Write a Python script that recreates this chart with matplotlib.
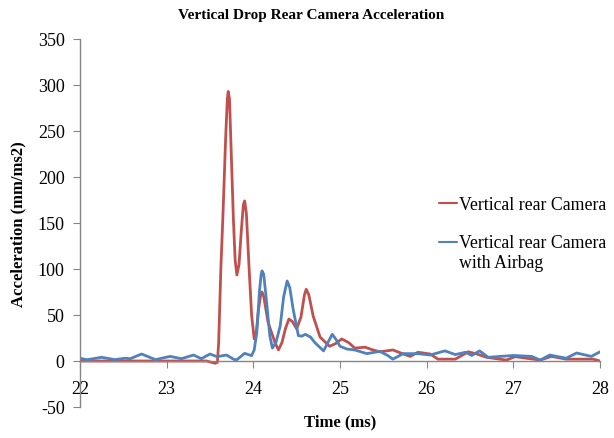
import matplotlib
matplotlib.use("Agg")
import matplotlib.pyplot as plt

plt.rcParams['font.family'] = ['Liberation Serif', 'DejaVu Serif']

title = "Vertical Drop Rear Camera Acceleration"
xlabel = "Time (ms)"
ylabel = "Acceleration (mm/ms2)"
red_label = "Vertical rear Camera"
blue_label = "Vertical rear Camera\nwith Airbag"

red_t = [22.0, 22.5, 23.0, 23.46, 23.52, 23.56, 23.585, 23.6, 23.625, 23.65, 23.68, 23.70,
         23.71, 23.725, 23.74, 23.77, 23.79, 23.81, 23.835, 23.86, 23.885, 23.90, 23.92,
         23.95, 23.98, 24.01, 24.035, 24.06, 24.085, 24.10, 24.12, 24.17, 24.25, 24.29,
         24.33, 24.37, 24.41, 24.45, 24.50, 24.55, 24.59, 24.61, 24.64, 24.69, 24.77, 24.88,
         24.95, 25.02, 25.1, 25.17, 25.29, 25.38, 25.46, 25.61, 25.72, 25.81, 25.9, 26.04,
         26.13, 26.33, 26.48, 26.58, 26.69, 26.92, 27.02, 27.31, 27.44, 27.61, 27.92, 28.0]
red_v = [0, 0, 0, 0, -1.5, -2.5, -1.5, 20, 100, 160, 241, 285,
         293, 285, 241, 154, 110, 93.5, 105, 140, 170, 174, 160,
         103, 50, 24, 32, 56, 72, 75, 70, 42, 20, 12,
         20, 35, 45.6, 43, 35, 48, 72, 78, 72, 49, 26, 16,
         19, 24, 20, 14, 15, 12, 10, 12, 8, 5, 9.5, 7.6,
         2, 2, 10, 7.6, 4, 1, 4.7, 1, 5, 2, 2, 0]

blue_t = [22.0, 22.08, 22.25, 22.40, 22.52, 22.58, 22.71, 22.87, 23.04, 23.17, 23.31, 23.40,
          23.5, 23.58, 23.69, 23.78, 23.81, 23.90, 23.98, 24.01, 24.04, 24.07, 24.09, 24.10,
          24.12, 24.15, 24.19, 24.22, 24.26, 24.31, 24.35, 24.39, 24.42, 24.46, 24.52, 24.56,
          24.60, 24.66, 24.71, 24.81, 24.86, 24.91, 24.95, 25.0, 25.08, 25.17, 25.31, 25.46,
          25.55, 25.61, 25.73, 25.9, 26.04, 26.21, 26.33, 26.45, 26.52, 26.61, 26.71, 26.85,
          27.0, 27.21, 27.31, 27.42, 27.61, 27.73, 27.90, 28.0]
blue_v = [3, 1.4, 4, 1.5, 3, 2.5, 7.6, 1.5, 5, 2.5, 6.5, 2.5,
          7.6, 4.7, 6.5, 1.5, 1.4, 8.3, 5.8, 12, 31, 75, 94, 98,
          94, 67, 27.5, 14, 20, 38, 70, 87, 80, 56, 27.5, 27,
          29, 26, 20, 11, 20, 29, 24, 16, 13, 12, 8, 10.5,
          6, 2, 8, 8, 6.5, 11, 7, 9.5, 6, 11, 4, 5,
          6, 5, 1, 6.5, 3, 8.7, 5, 10]

x_ticks = [22, 23, 24, 25, 26, 27, 28]
y_ticks = [-50, 0, 50, 100, 150, 200, 250, 300, 350]

fig = plt.figure(figsize=(6.14, 4.39), dpi=100)
ax = fig.add_axes([80/614, 1-408/439, 520/614, 368/439])

red_c = '#C0504D'
blue_c = '#4F81BD'
ax.plot(red_t, red_v, color=red_c, lw=2, label=red_label,
        solid_joinstyle='round', solid_capstyle='round')
ax.plot(blue_t, blue_v, color=blue_c, lw=2, label=blue_label,
        solid_joinstyle='round', solid_capstyle='round')

ax.set_xlim(22, 28)
ax.set_ylim(-50, 350)
ax.set_xticks(x_ticks)
ax.set_yticks(y_ticks)
ax.set_xticklabels([str(v) for v in x_ticks])
ax.set_yticklabels([str(v) for v in y_ticks])

for s in ['top', 'right']:
    ax.spines[s].set_visible(False)
ax.spines['bottom'].set_position(('data', 0))
for s in ['bottom', 'left']:
    ax.spines[s].set_color('#868686')
    ax.spines[s].set_linewidth(1)
ax.tick_params(axis='x', direction='out', length=5, color='#868686', pad=9, labelsize=13)
ax.tick_params(axis='y', direction='out', length=5, color='#868686', pad=6, labelsize=13)

ax.set_zorder(1)
fig.text(311/614, 1-16/439, title, ha='center', va='center', fontsize=11, fontweight='bold')
fig.text(340/614, 1-422/439, xlabel, ha='center', va='center', fontsize=12, fontweight='bold')
fig.text(18/614, 1-224/439, ylabel, ha='center', va='center', rotation=90, fontsize=12, fontweight='bold')

leg = fig.legend(loc='upper left', bbox_to_anchor=(439/614, 1-197/439), frameon=False,
                 fontsize=12.8, handlelength=1.0, handletextpad=0.15, labelspacing=1.2,
                 borderpad=0, borderaxespad=0)
lines = leg.get_lines()
for line in lines:
    line.set_linewidth(1.5)
yd = lines[1].get_ydata()
lines[1].set_ydata([y + 7.5 for y in yd])

fig.savefig("out.png", dpi=100)
